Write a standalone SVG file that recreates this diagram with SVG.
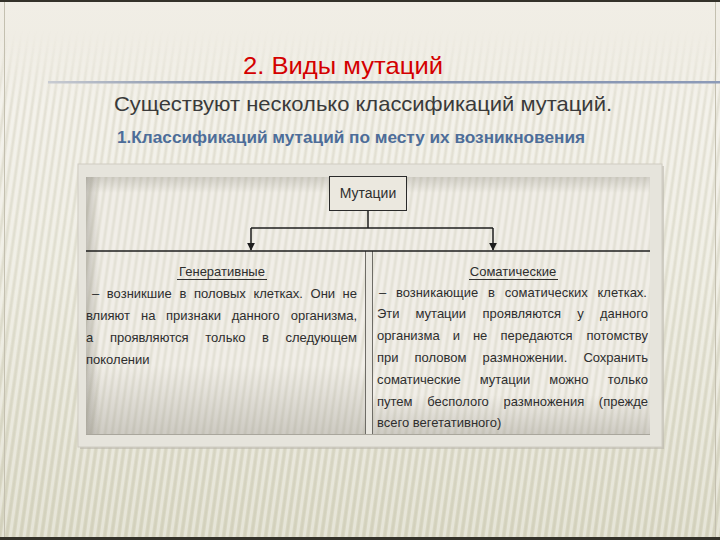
<svg xmlns="http://www.w3.org/2000/svg" width="720" height="540" viewBox="0 0 720 540">
<defs>
<linearGradient id="bg" x1="0" y1="0" x2="0" y2="1">
<stop offset="0" stop-color="#f1eee6"/>
<stop offset="0.5" stop-color="#e9e7da"/>
<stop offset="1" stop-color="#d8d6c2"/>
</linearGradient>
<pattern id="stripes" width="7" height="40" patternUnits="userSpaceOnUse" patternTransform="skewX(-8)">
<rect x="0" y="0" width="3" height="40" fill="#ffffff" opacity="0.35"/>
<rect x="4" y="0" width="2" height="40" fill="#b8b5a2" opacity="0.18"/>
</pattern>
<linearGradient id="stripeFade" x1="0" y1="0" x2="0" y2="1">
<stop offset="0" stop-color="#fff" stop-opacity="0"/>
<stop offset="0.15" stop-color="#fff" stop-opacity="1"/>
<stop offset="1" stop-color="#fff" stop-opacity="1"/>
</linearGradient>
<mask id="stripeMask"><rect x="0" y="30" width="720" height="510" fill="url(#stripeFade)"/></mask>
<linearGradient id="rule" x1="0" y1="0" x2="1" y2="0">
<stop offset="0" stop-color="#c9ccd2"/>
<stop offset="0.25" stop-color="#7b8aa6"/>
<stop offset="1" stop-color="#8d9bb8"/>
</linearGradient>
<linearGradient id="leftShade" x1="0" y1="0" x2="1" y2="0">
<stop offset="0" stop-color="#8a877c" stop-opacity="0.45"/>
<stop offset="1" stop-color="#8a877c" stop-opacity="0"/>
</linearGradient>
<linearGradient id="bottomShade" x1="0" y1="0" x2="0" y2="1">
<stop offset="0" stop-color="#8a877c" stop-opacity="0"/>
<stop offset="1" stop-color="#8a877c" stop-opacity="0.35"/>
</linearGradient>
<linearGradient id="topShade" x1="0" y1="0" x2="0" y2="1">
<stop offset="0" stop-color="#8a877c" stop-opacity="0.3"/>
<stop offset="1" stop-color="#8a877c" stop-opacity="0"/>
</linearGradient>
<marker id="arrow" viewBox="0 0 10 10" refX="9" refY="5" markerWidth="8" markerHeight="8" markerUnits="userSpaceOnUse" orient="auto">
<path d="M0,0 L10,5 L0,10 Z" fill="#1e1e1e"/>
</marker>
<style>
.title{font-family:"Liberation Sans",Arial,sans-serif;font-size:24px;fill:#d40000;}
.sub{font-family:"Liberation Sans",Arial,sans-serif;font-size:21px;fill:#3a3a3a;}
.sub2{font-family:"Liberation Sans",Arial,sans-serif;font-size:16px;font-weight:bold;fill:#4d6d99;}
.body{font-family:"Liberation Sans",Arial,sans-serif;font-size:13px;fill:#2e2e2e;}
.head{font-family:"Liberation Sans",Arial,sans-serif;font-size:13px;fill:#2e2e2e;text-anchor:middle;}
.m{text-anchor:middle;}
.e{text-anchor:end;}
.ul{stroke:#2e2e2e;stroke-width:1;}
.conn{stroke:#1e1e1e;stroke-width:1.5;fill:none;}
.div{stroke:#6e6c66;stroke-width:1;}
</style>
</defs>

<!-- background -->
<rect x="0" y="0" width="720" height="540" fill="url(#bg)"/>
<rect x="0" y="0" width="720" height="540" fill="url(#stripes)" mask="url(#stripeMask)"/>
<rect x="0" y="0" width="720" height="2" fill="#34322a"/>
<rect x="0" y="537" width="720" height="3" fill="#34322a"/>
<line x1="4.5" y1="2" x2="4.5" y2="537" stroke="#c4c0b0" stroke-width="1"/>
<line x1="715.5" y1="2" x2="715.5" y2="537" stroke="#c4c0b0" stroke-width="1"/>

<!-- headings -->
<text class="title" x="243" y="74" textLength="200" lengthAdjust="spacingAndGlyphs">2. Виды мутаций</text>
<rect x="48" y="81" width="672" height="2.5" fill="url(#rule)"/>
<text class="sub" x="114" y="111" textLength="498" lengthAdjust="spacingAndGlyphs">Существуют несколько классификаций мутаций.</text>
<text class="sub2" x="117" y="143" textLength="468" lengthAdjust="spacingAndGlyphs">1.Классификаций мутаций по месту их возникновения</text>

<!-- picture frame -->
<rect x="80" y="166" width="584" height="283" fill="#b9b6ac" opacity="0.6"/>
<rect x="78" y="164" width="584" height="283" fill="#e6e4dc" stroke="#cfccc2" stroke-width="1"/>
<rect x="86" y="177" width="564" height="258" fill="#ebe8df"/>
<rect x="86" y="177" width="564" height="258" fill="url(#stripes)" opacity="0.8"/>
<rect x="86" y="177" width="564" height="16" fill="url(#topShade)"/>
<rect x="86" y="177" width="14" height="258" fill="url(#leftShade)"/>
<rect x="86" y="365" width="279" height="70" fill="url(#bottomShade)"/>
<rect x="372" y="395" width="278" height="40" fill="url(#bottomShade)"/>
<rect x="365" y="251" width="7" height="184" fill="#e9e7e0"/>
<line class="div" x1="365.5" y1="251" x2="365.5" y2="435"/>
<line class="div" x1="372.5" y1="251" x2="372.5" y2="435"/>
<line x1="86" y1="434.5" x2="650" y2="434.5" stroke="#a9a69c" stroke-width="1"/>

<!-- connectors -->
<g id="connectors">
<line class="conn" x1="86" y1="251" x2="650" y2="251"/>
<line class="conn" x1="368" y1="211" x2="368" y2="228"/>
<line class="conn" x1="251" y1="228" x2="493" y2="228"/>
<line class="conn" x1="251" y1="228" x2="251" y2="250" marker-end="url(#arrow)"/>
<line class="conn" x1="493" y1="228" x2="493" y2="250" marker-end="url(#arrow)"/>
</g>

<!-- node: mutations -->
<g id="node-mutations">
<rect x="329.5" y="176.5" width="77" height="34" fill="#ebe8df" stroke="#2a2a2a" stroke-width="1"/>
<text class="head" x="368" y="198" style="font-size:14px">Мутации</text>
</g>

<!-- node: generative -->
<g id="node-generative">
<text class="head" x="222" y="276">Генеративные</text>
<line class="ul" x1="177" y1="279.5" x2="267" y2="279.5"/>
<text class="body" x="92" y="298">–</text>
<text class="body m" x="139.3" y="298">возникшие</text>
<text class="body m" x="183" y="298">в</text>
<text class="body m" x="219.9" y="298">половых</text>
<text class="body m" x="278.2" y="298">клетках.</text>
<text class="body m" x="322.8" y="298">Они</text>
<text class="body e" x="357" y="298">не</text>

<text class="body" x="86" y="320">влияют</text>
<text class="body m" x="148.3" y="320">на</text>
<text class="body m" x="193.5" y="320">признаки</text>
<text class="body m" x="255.7" y="320">данного</text>
<text class="body e" x="357" y="320">организма,</text>

<text class="body" x="86" y="342">а</text>
<text class="body m" x="149.2" y="342">проявляются</text>
<text class="body m" x="225.4" y="342">только</text>
<text class="body m" x="265.4" y="342">в</text>
<text class="body e" x="357" y="342">следующем</text>

<text class="body" x="86" y="364">поколении</text>
</g>

<!-- node: somatic -->
<g id="node-somatic">
<text class="head" x="513" y="276">Соматические</text>
<line class="ul" x1="469" y1="279.5" x2="558" y2="279.5"/>
<text class="body" x="379" y="297">–</text>
<text class="body m" x="437.1" y="297">возникающие</text>
<text class="body m" x="491.5" y="297">в</text>
<text class="body m" x="546.2" y="297">соматических</text>
<text class="body e" x="647" y="297">клетках.</text>

<text class="body" x="377" y="318">Эти</text>
<text class="body m" x="440.8" y="318">мутации</text>
<text class="body m" x="521.7" y="318">проявляются</text>
<text class="body m" x="580.5" y="318">у</text>
<text class="body e" x="648" y="318">данного</text>

<text class="body" x="377" y="340">организма</text>
<text class="body m" x="456.5" y="340">и</text>
<text class="body m" x="480.1" y="340">не</text>
<text class="body m" x="536.5" y="340">передаются</text>
<text class="body e" x="648" y="340">потомству</text>

<text class="body" x="377" y="362">при</text>
<text class="body m" x="440.5" y="362">половом</text>
<text class="body m" x="524.9" y="362">размножении.</text>
<text class="body e" x="648" y="362">Сохранить</text>

<text class="body" x="377" y="384">соматические</text>
<text class="body m" x="505" y="384">мутации</text>
<text class="body m" x="568.9" y="384">можно</text>
<text class="body e" x="648" y="384">только</text>

<text class="body" x="377" y="406">путем</text>
<text class="body m" x="458" y="406">бесполого</text>
<text class="body m" x="543.9" y="406">размножения</text>
<text class="body e" x="648" y="406">(прежде</text>

<text class="body" x="377" y="427">всего вегетативного)</text>
</g>
</svg>
